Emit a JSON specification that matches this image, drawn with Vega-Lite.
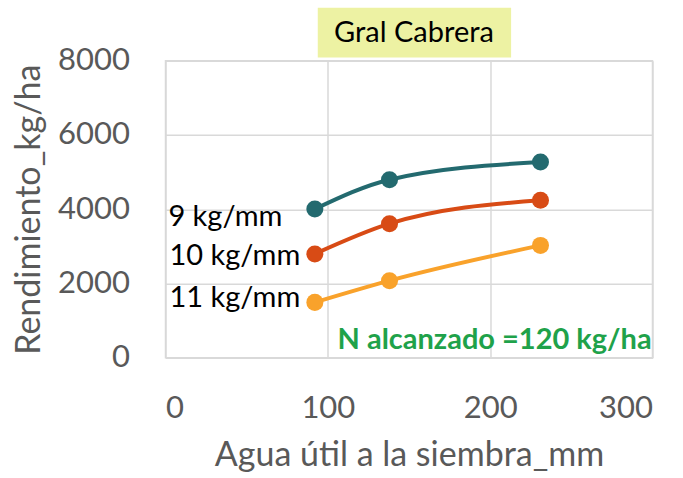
{
  "$schema": "https://vega.github.io/schema/vega-lite/v6.json",
  "autosize": "none",
  "width": 487,
  "height": 297,
  "padding": {"left": 165.5, "top": 60.7, "right": 30.5, "bottom": 120},
  "background": "white",
  "config": {
    "font": "Lato",
    "view": {"stroke": "#D9D9D9", "strokeWidth": 1.5},
    "axis": {"gridColor": "#D9D9D9", "gridWidth": 1.5, "domain": false, "ticks": false,
             "labelColor": "#595959", "titleColor": "#595959", "labelFont": "Lato", "titleFont": "Lato",
             "labelFontSize": 31, "titleFontSize": 34, "titleFontWeight": "normal"}
  },
  "datasets": {
    "series": [
      {"serie": "9 kg/mm", "agua": 92, "rend": 4005},
      {"serie": "9 kg/mm", "agua": 138, "rend": 4795},
      {"serie": "9 kg/mm", "agua": 231, "rend": 5270},
      {"serie": "10 kg/mm", "agua": 92, "rend": 2795},
      {"serie": "10 kg/mm", "agua": 138, "rend": 3610},
      {"serie": "10 kg/mm", "agua": 231, "rend": 4240},
      {"serie": "11 kg/mm", "agua": 92, "rend": 1490},
      {"serie": "11 kg/mm", "agua": 138, "rend": 2075},
      {"serie": "11 kg/mm", "agua": 231, "rend": 3025}
    ],
    "labels": [
      {"label": "9 kg/mm", "agua": 72, "rend": 3800},
      {"label": "10 kg/mm", "agua": 83, "rend": 2730},
      {"label": "11 kg/mm", "agua": 83, "rend": 1620}
    ],
    "box": [{"x1": 93.8, "x2": 212.9, "y1": 8089, "y2": 9428, "t": "Gral Cabrera", "tx": 153.1, "ty": 8754}],
    "note": [{"t": "N alcanzado =120 kg/ha", "x": 299.5, "y": 485}]
  },
  "layer": [
    {
      "data": {"name": "series"},
      "mark": {"type": "line", "interpolate": "monotone", "strokeWidth": 4},
      "encoding": {
        "x": {"field": "agua", "type": "quantitative", "scale": {"domain": [0, 300], "nice": false},
              "axis": {"values": [0, 100, 200, 300], "title": "Agua útil a la siembra_mm", "labelPadding": 36, "titlePadding": 15}},
        "y": {"field": "rend", "type": "quantitative", "scale": {"domain": [0, 8000], "nice": false},
              "axis": {"values": [0, 2000, 4000, 6000, 8000], "format": "d", "title": "Rendimiento_kg/ha", "labelPadding": 36, "titlePadding": 11}},
        "color": {"field": "serie", "type": "nominal", "legend": null,
                  "scale": {"domain": ["9 kg/mm", "10 kg/mm", "11 kg/mm"], "range": ["#236A6F", "#D84B15", "#F9A22B"]}}
      }
    },
    {
      "data": {"name": "series"},
      "mark": {"type": "point", "filled": true, "size": 290, "opacity": 1},
      "encoding": {
        "x": {"field": "agua", "type": "quantitative"},
        "y": {"field": "rend", "type": "quantitative"},
        "color": {"field": "serie", "type": "nominal", "legend": null,
                  "scale": {"domain": ["9 kg/mm", "10 kg/mm", "11 kg/mm"], "range": ["#236A6F", "#D84B15", "#F9A22B"]}}
      }
    },
    {
      "data": {"name": "labels"},
      "mark": {"type": "text", "align": "right", "baseline": "middle", "fontSize": 29, "color": "black", "font": "Lato"},
      "encoding": {
        "x": {"field": "agua", "type": "quantitative"},
        "y": {"field": "rend", "type": "quantitative"},
        "text": {"field": "label"}
      }
    },
    {
      "data": {"name": "box"},
      "mark": {"type": "rect", "color": "#EDF2A3"},
      "encoding": {
        "x": {"field": "x1", "type": "quantitative"},
        "x2": {"field": "x2"},
        "y": {"field": "y1", "type": "quantitative"},
        "y2": {"field": "y2"}
      }
    },
    {
      "data": {"name": "box"},
      "mark": {"type": "text", "align": "center", "baseline": "middle", "fontSize": 29, "color": "black", "font": "Lato"},
      "encoding": {
        "x": {"field": "tx", "type": "quantitative"},
        "y": {"field": "ty", "type": "quantitative"},
        "text": {"field": "t"}
      }
    },
    {
      "data": {"name": "note"},
      "mark": {"type": "text", "align": "right", "baseline": "middle", "fontSize": 29, "fontWeight": "bold", "color": "#1FA24A", "font": "Lato"},
      "encoding": {
        "x": {"field": "x", "type": "quantitative"},
        "y": {"field": "y", "type": "quantitative"},
        "text": {"field": "t"}
      }
    }
  ]
}
